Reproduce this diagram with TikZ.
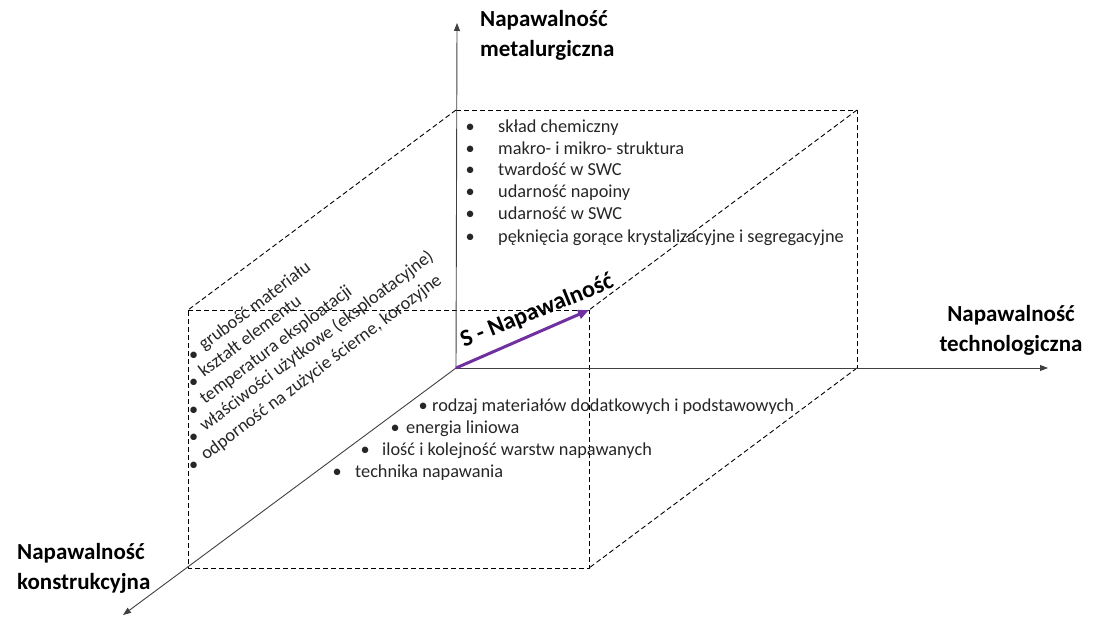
\documentclass[tikz,border=0pt]{standalone}
\usepackage{fontspec}
\setmainfont{Carlito}
\usetikzlibrary{arrows.meta}

\definecolor{txtgray}{HTML}{262626}
\definecolor{axisgray}{HTML}{404040}
\definecolor{svec}{HTML}{7030A0}

\newcommand{\bulat}[1]{\makebox[0pt][r]{\textbullet\hspace{#1}}}

\tikzset{
    axis/.style={draw=axisgray, line width=0.9pt, -{Triangle[length=8pt,width=6pt]}},
    cubeedge/.style={draw=black, line width=0.9pt, dash pattern=on 5pt off 3pt},
    svector/.style={draw=svec, line width=3pt, -{Triangle[length=11pt,width=9pt]}},
    axislabel/.style={font=\fontsize{23}{30}\selectfont\bfseries, inner sep=0pt},
    itemtext/.style={font=\fontsize{18.3}{22}\selectfont, text=txtgray, inner sep=0pt, anchor=base west},
    sidetext/.style={itemtext, rotate=37},
}

\begin{document}
\begin{tikzpicture}[x=1pt, y=-1pt]
        \useasboundingbox (0,0) rectangle (1094,617);

        % cube corners
        \coordinate (o)  at (456, 368);
        \coordinate (t0) at (456, 110);
        \coordinate (t1) at (857, 110);
        \coordinate (b1) at (857, 368);
        \coordinate (f0) at (188, 568);
        \coordinate (f1) at (589, 568);
        \coordinate (f2) at (589, 310);
        \coordinate (f3) at (188, 310);

        % axis ends
        \coordinate (ztip) at (457, 23);
        \coordinate (xtip) at (1048, 368);
        \coordinate (ytip) at (123, 615);

        % dashed cube
        \draw[cubeedge] (t0) -- (t1) -- (b1);
        \draw[cubeedge] (t0) -- (f3);
        \draw[cubeedge] (t1) -- (f2);
        \draw[cubeedge] (b1) -- (f1);
        \draw[cubeedge] (f3) -- (f2) -- (f1) -- (f0) -- cycle;

        % axes
        \draw[axis] (o) -- (ztip);
        \draw[axis] (o) -- (xtip);
        \draw[axis] (o) -- (ytip);

        % resulting vector
        \draw[svector] (o) -- (f2);
        \node[font=\fontsize{24}{28}\selectfont\bfseries, inner sep=0pt, anchor=base west, rotate=22] at (464, 348) (slabel) {S - Napawalność};

        % axis labels
        \node[axislabel, anchor=north west, align=left] at (480, 10) (metlabel) {Napawalność\\metalurgiczna};
        \node[axislabel, anchor=north, align=center] at (1011, 305) (techlabel) {Napawalność\\technologiczna};
        \node[axislabel, anchor=north west, align=left] at (17, 543) (konlabel) {Napawalność\\konstrukcyjna};

        % metallurgical properties
        \node[itemtext] at (498, 133) (m1) {\bulat{23.5pt}skład chemiczny};
        \node[itemtext] at (498, 155) (m2) {\bulat{23.5pt}makro- i mikro- struktura};
        \node[itemtext] at (498, 176) (m3) {\bulat{23.5pt}twardość w SWC};
        \node[itemtext] at (498, 198) (m4) {\bulat{23.5pt}udarność napoiny};
        \node[itemtext] at (498, 220) (m5) {\bulat{23.5pt}udarność w SWC};
        \node[itemtext] at (498, 243) (m6) {\bulat{23.5pt}pęknięcia gorące krystalizacyjne i segregacyjne};

        % technological properties
        \node[itemtext] at (432, 411) (t1a) {\bulat{4.5pt}rodzaj materiałów dodatkowych i podstawowych};
        \node[itemtext] at (406, 433) (t2a) {\bulat{6.5pt}energia liniowa};
        \node[itemtext] at (382, 455) (t3a) {\bulat{12.5pt}ilość i kolejność warstw napawanych};
        \node[itemtext] at (355, 477) (t4a) {\bulat{13.5pt}technika napawania};

        % constructional properties
        \node[itemtext] at (189, 360) (k1b) {\textbullet};
        \node[itemtext] at (189, 387) (k2b) {\textbullet};
        \node[itemtext] at (189, 415) (k3b) {\textbullet};
        \node[itemtext] at (189, 442) (k4b) {\textbullet};
        \node[itemtext] at (189, 470) (k5b) {\textbullet};
        \node[sidetext] at (204, 351) (k1) {grubość materiału};
        \node[sidetext] at (204, 378) (k2) {kształt elementu};
        \node[sidetext] at (205, 405) (k3) {temperatura eksploatacji};
        \node[sidetext] at (205, 432) (k4) {właściwości użytkowe (eksploatacyjne)};
        \node[sidetext] at (206, 461) (k5) {odporność na zużycie ścierne, korozyjne};
    \end{tikzpicture}
\end{document}
